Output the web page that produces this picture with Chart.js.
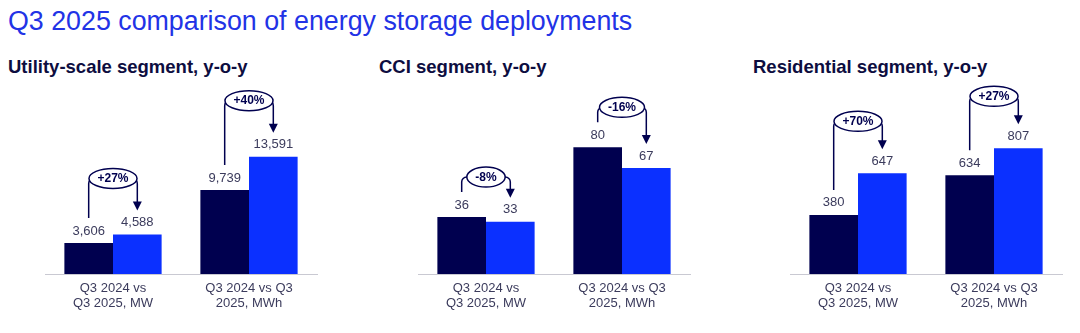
<!DOCTYPE html>
<html>
<head>
<meta charset="utf-8">
<script src="https://cdn.jsdelivr.net/npm/chart.js@4.4.1/dist/chart.umd.min.js"></script>
<style>
  body {
    margin: 0;
    background: #fff;
    width: 1080px;
    height: 333px;
    overflow: hidden;
    position: relative;
    font-family: "Liberation Sans", Arial, sans-serif;
  }
  #title {
    position: absolute;
    left: 8px;
    top: 8px;
    font-size: 26.8px;
    line-height: 1;
    color: #2233e6;
    white-space: nowrap;
  }
  .sub {
    position: absolute;
    top: 58px;
    font-size: 18.5px;
    line-height: 1;
    font-weight: bold;
    color: #0d0d40;
    white-space: nowrap;
  }
  .panel {
    position: absolute;
    top: 74px;
  }
</style>
</head>
<body>
<div id="title">Q3 2025 comparison of energy storage deployments</div>
<div class="sub" style="left:8px">Utility-scale segment, y-o-y</div>
<div class="sub" style="left:379px">CCI segment, y-o-y</div>
<div class="sub" style="left:753px">Residential segment, y-o-y</div>

<canvas id="utilityChart" class="panel" width="292" height="250" style="left:35px"></canvas>
<canvas id="cciChart" class="panel" width="292" height="250" style="left:408px"></canvas>
<canvas id="residentialChart" class="panel" width="292" height="250" style="left:780px"></canvas>

<script>
// Catégories communes aux trois segments
const categories = [
  ["Q3 2024 vs", "Q3 2025, MW"],
  ["Q3 2024 vs Q3", "2025, MWh"],
];

// Utility-scale
const utility2024 = [3606, 9739];
const utility2025 = [4588, 13591];
const utilityChange = ["+27%", "+40%"];

// CCI
const cci2024 = [36, 80];
const cci2025 = [33, 67];
const cciChange = ["-8%", "-16%"];

// Residential
const residential2024 = [380, 634];
const residential2025 = [647, 807];
const residentialChange = ["+70%", "+27%"];

const NAVY = "#00004f";
const BLUE = "#0b30ff";
const TEXT = "#3b3b5c";
const FONT = "'Liberation Sans', Arial, sans-serif";

// Valeurs au-dessus des barres + flèches avec la variation y-o-y
const bracketPlugin = {
  id: "brackets",
  afterDatasetsDraw(chart, args, opts) {
    const ctx = chart.ctx;
    const m0 = chart.getDatasetMeta(0);
    const m1 = chart.getDatasetMeta(1);
    ctx.save();

    ctx.font = "13px " + FONT;
    ctx.fillStyle = TEXT;
    ctx.textAlign = "center";
    ctx.textBaseline = "middle";
    [m0, m1].forEach((meta, d) => {
      meta.data.forEach((bar, i) => {
        const v = chart.data.datasets[d].data[i];
        ctx.fillText(v.toLocaleString("en-US"), bar.x, bar.y - 12);
      });
    });

    opts.labels.forEach((txt, i) => {
      const a = m0.data[i];
      const b = m1.data[i];
      const yTop = Math.min(a.y, b.y) - opts.lift;
      const yStart = a.y - 25;
      const yEnd = b.y - 24;
      const cx = (a.x + b.x) / 2;

      ctx.strokeStyle = NAVY;
      ctx.fillStyle = NAVY;
      ctx.lineWidth = 1.5;
      ctx.beginPath();
      ctx.moveTo(a.x, yStart);
      ctx.arcTo(a.x, yTop, b.x, yTop, 5);
      ctx.arcTo(b.x, yTop, b.x, yEnd, 5);
      ctx.lineTo(b.x, yEnd - 8);
      ctx.stroke();

      // pointe de flèche
      ctx.beginPath();
      ctx.moveTo(b.x - 4.5, yEnd - 9);
      ctx.lineTo(b.x + 4.5, yEnd - 9);
      ctx.lineTo(b.x, yEnd);
      ctx.closePath();
      ctx.fill();

      // ellipse avec le pourcentage
      ctx.font = "bold 12px " + FONT;
      const w = Math.min(ctx.measureText(txt).width + 17, b.x - a.x + 1);
      ctx.beginPath();
      ctx.ellipse(cx, yTop, w / 2, 10, 0, 0, 2 * Math.PI);
      ctx.fillStyle = "#fff";
      ctx.fill();
      ctx.stroke();
      ctx.fillStyle = NAVY;
      ctx.fillText(txt, cx, yTop + 0.5);
    });

    ctx.restore();
  },
};

const makeChart = (id, data2024, data2025, changes, yMax, lift) => {
  const ctx = document.getElementById(id).getContext("2d");
  return new Chart(ctx, {
    type: "bar",
    data: {
      labels: categories,
      datasets: [
        { label: "Q3 2024", data: data2024, backgroundColor: NAVY },
        { label: "Q3 2025", data: data2025, backgroundColor: BLUE },
      ],
    },
    options: {
      responsive: false,
      animation: false,
      devicePixelRatio: 1,
      categoryPercentage: 0.715,
      barPercentage: 1,
      layout: { padding: { left: 10, right: 10, top: 10, bottom: 6 } },
      scales: {
        x: {
          grid: { display: false, drawTicks: false },
          border: { display: true, color: "#c9c9d2", width: 1 },
          ticks: {
            padding: 7,
            color: TEXT,
            maxRotation: 0,
            autoSkip: false,
            font: { family: FONT, size: 13, lineHeight: 1.15 },
          },
        },
        y: { display: false, min: 0, max: yMax },
      },
      plugins: {
        legend: { display: false },
        tooltip: { enabled: false },
        brackets: { labels: changes, lift: lift },
      },
    },
    plugins: [bracketPlugin],
  });
};

makeChart("utilityChart", utility2024, utility2025, utilityChange, 22000, 56);
makeChart("cciChart", cci2024, cci2025, cciChange, 120, 40);
makeChart("residentialChart", residential2024, residential2025, residentialChange, 1220, 52);
</script>
</body>
</html>
